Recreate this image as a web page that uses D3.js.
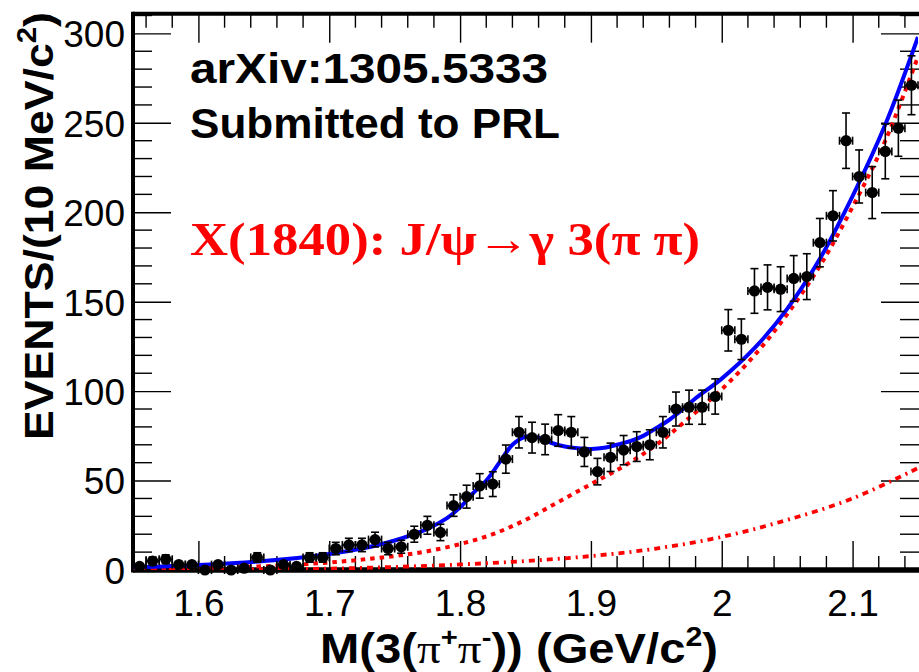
<!DOCTYPE html>
<html>
<head>
<meta charset="utf-8">
<script src="https://cdn.jsdelivr.net/npm/d3@7"></script>
<style>
  html, body { margin: 0; padding: 0; background: #fff; }
  svg { display: block; }
</style>
</head>
<body>
<svg id="chart" width="919" height="672"></svg>
<script>
// Bin centres of the 3(pi+pi-) invariant mass histogram (10 MeV bins), GeV/c^2
const binCenters = [
  1.555, 1.565, 1.575, 1.585, 1.595, 1.605, 1.615, 1.625, 1.635, 1.645,
  1.655, 1.665, 1.675, 1.685, 1.695, 1.705, 1.715, 1.725, 1.735, 1.745,
  1.755, 1.765, 1.775, 1.785, 1.795, 1.805, 1.815, 1.825, 1.835, 1.845,
  1.855, 1.865, 1.875, 1.885, 1.895, 1.905, 1.915, 1.925, 1.935, 1.945,
  1.955, 1.965, 1.975, 1.985, 1.995, 2.005, 2.015, 2.025, 2.035, 2.045,
  2.055, 2.065, 2.075, 2.085, 2.095, 2.105, 2.115, 2.125, 2.135, 2.145
];
// Events per bin
const binCounts = [
  2, 5, 6, 3, 3, 0, 3, 0, 1, 7,
  0, 3, 2, 7, 7, 12, 14, 14, 17, 12,
  13, 20, 25, 21, 36, 41, 47, 48, 62, 77,
  74, 73, 78, 77, 66, 55, 63, 67, 69, 70,
  77, 90, 91, 91, 97, 134, 129, 156, 158, 157,
  163, 164, 183, 198, 240, 220, 211, 234, 247, 271
];

// Total fit (signal + backgrounds)
const fitMass = [1.55, 1.60, 1.65, 1.70, 1.725, 1.75, 1.775, 1.79, 1.80, 1.81, 1.82, 1.83, 1.84, 1.85,
  1.86, 1.87, 1.88, 1.89, 1.90, 1.91, 1.92, 1.93, 1.94, 1.95, 1.96, 1.97, 1.98, 2.00,
  2.025, 2.05, 2.075, 2.10, 2.125, 2.15];
const fitTotal = [1.5, 2.8, 5, 9, 12, 16.5, 23, 29, 35, 43, 50, 60, 70, 74.5,
  74, 71, 69, 68, 67.7, 68.3, 70, 72, 75, 79.4, 84, 89.7, 96, 107,
  124, 146, 174, 209, 249, 298];

// Smooth background component
const bkgMass = [1.55, 1.575, 1.60, 1.625, 1.65, 1.675, 1.70, 1.725, 1.75, 1.775, 1.80, 1.825,
  1.85, 1.875, 1.90, 1.925, 1.95, 1.975, 2.00, 2.025, 2.05, 2.075, 2.10, 2.125, 2.15];
const bkgValues = [0.2, 0.5, 0.9, 1.4, 2.1, 3, 4.2, 5.8, 7.8, 10.5, 14.5, 20,
  28, 38, 48, 58, 70, 85, 101, 120, 143, 170, 203, 240, 287];

// Second (non-resonant) background component
const bkg2Mass = [1.55, 1.60, 1.65, 1.70, 1.75, 1.80, 1.85, 1.90, 1.95, 2.00, 2.05, 2.10, 2.15];
const bkg2Values = [0, 0.1, 0.4, 0.8, 1.7, 3.1, 5, 7.8, 12, 18.5, 28, 40, 57];

const xTicks = [1.6, 1.7, 1.8, 1.9, 2.0, 2.1];
const xTickLabels = ["1.6", "1.7", "1.8", "1.9", "2", "2.1"];
const yTicks = [0, 50, 100, 150, 200, 250, 300];

const svg = d3.select("#chart");
const W = 919, H = 672;
const padL = 133, padR = 918, padT = 13.7, padB = 570;

const x = d3.scaleLinear().domain([1.55, 2.15]).range([padL, padR]);
const y = d3.scaleLinear().domain([0, 311]).range([padB, padT]);

svg.append("rect").attr("width", W).attr("height", H).attr("fill", "#fff");

svg.append("defs").append("clipPath").attr("id", "plotClip")
  .append("rect").attr("x", padL).attr("y", padT).attr("width", padR - padL).attr("height", padB - padT);

// ---- axes (ROOT style: ticks inside on all four sides) ----
const xMinor = d3.range(1.56, 2.1401, 0.02).filter(v => !xTicks.some(t => Math.abs(t - v) < 1e-6));
const yMinor = d3.range(10, 311, 10).filter(v => v % 50 !== 0);

const bottomAxis = d3.axisBottom(x).tickValues(xTicks).tickFormat((d, i) => xTickLabels[i]).tickSizeInner(-29).tickSizeOuter(0).tickPadding(0);
const topAxis = d3.axisTop(x).tickValues(xTicks).tickFormat("").tickSizeInner(-29).tickSizeOuter(0);
const leftAxis = d3.axisLeft(y).tickValues(yTicks).tickSizeInner(-38).tickSizeOuter(0);
const rightAxis = d3.axisRight(y).tickValues(yTicks).tickFormat("").tickSizeInner(-38).tickSizeOuter(0);

function styleAxis(g) {
  g.select(".domain").remove();
  g.selectAll(".tick line").attr("stroke", "#000").attr("stroke-width", 1.4);
}

const gB = svg.append("g").attr("transform", `translate(0,${padB})`).call(bottomAxis).call(styleAxis);
gB.selectAll(".tick text").attr("y", 46).attr("dy", 0)
  .attr("font-family", "'Liberation Sans', Arial, sans-serif").attr("font-size", 37).attr("fill", "#000");
svg.append("g").attr("transform", `translate(0,${padT})`).call(topAxis).call(styleAxis);
const gL = svg.append("g").attr("transform", `translate(${padL},0)`).call(leftAxis).call(styleAxis);
gL.selectAll(".tick text").attr("x", -8).attr("dy", "0.36em")
  .attr("font-family", "'Liberation Sans', Arial, sans-serif").attr("font-size", 37).attr("fill", "#000");
svg.append("g").attr("transform", `translate(${padR + 1},0)`).call(rightAxis).call(styleAxis);

// minor ticks
const minor = svg.append("g").attr("stroke", "#000").attr("stroke-width", 1.4);
minor.selectAll(".mxb").data(xMinor).join("line")
  .attr("x1", d => x(d)).attr("x2", d => x(d)).attr("y1", padB).attr("y2", padB - 14);
minor.selectAll(".mxt").data(xMinor).join("line")
  .attr("x1", d => x(d)).attr("x2", d => x(d)).attr("y1", padT).attr("y2", padT + 14);
minor.selectAll(".myl").data(yMinor).join("line")
  .attr("x1", padL).attr("x2", padL + 19).attr("y1", d => y(d)).attr("y2", d => y(d));
minor.selectAll(".myr").data(yMinor).join("line")
  .attr("x1", padR + 1).attr("x2", padR + 1 - 19).attr("y1", d => y(d)).attr("y2", d => y(d));

// frame
svg.append("line").attr("x1", padL).attr("x2", W).attr("y1", padT).attr("y2", padT).attr("stroke", "#000").attr("stroke-width", 4);
svg.append("line").attr("x1", padL).attr("x2", W).attr("y1", padB).attr("y2", padB).attr("stroke", "#000").attr("stroke-width", 5.5);
svg.append("line").attr("x1", padL).attr("x2", padL).attr("y1", padT - 2).attr("y2", padB + 2.5).attr("stroke", "#000").attr("stroke-width", 4);

// ---- curves ----
const plot = svg.append("g").attr("clip-path", "url(#plotClip)");
const lineOf = (xs) => d3.line().x((d, i) => x(xs[i])).y(d => y(d)).curve(d3.curveCatmullRom.alpha(0.5));

plot.append("path").datum(bkg2Values).attr("d", lineOf(bkg2Mass))
  .attr("fill", "none").attr("stroke", "#ff0000").attr("stroke-width", 3.8)
  .attr("stroke-dasharray", "6,5,2,5");
plot.append("path").datum(bkgValues).attr("d", lineOf(bkgMass))
  .attr("fill", "none").attr("stroke", "#ff0000").attr("stroke-width", 4)
  .attr("stroke-dasharray", "4.5,5");
plot.append("path").datum(fitTotal).attr("d", lineOf(fitMass))
  .attr("fill", "none").attr("stroke", "#0000ff").attr("stroke-width", 4);

// ---- data points with errors ----
const halfBin = 0.005;
const pts = svg.append("g").attr("stroke", "#000").attr("stroke-width", 1.6);
binCenters.forEach((c, i) => {
  const n = binCounts[i];
  const err = Math.sqrt(n);
  const cx = x(c), cy = y(n);
  const x0 = x(c - halfBin), x1 = x(c + halfBin);
  // horizontal bar with end caps
  pts.append("line").attr("x1", x0).attr("x2", x1).attr("y1", cy).attr("y2", cy);
  pts.append("line").attr("x1", x0).attr("x2", x0).attr("y1", cy - 4).attr("y2", cy + 4);
  pts.append("line").attr("x1", x1).attr("x2", x1).attr("y1", cy - 4).attr("y2", cy + 4);
  if (err > 0) {
    const yLo = y(Math.max(0, n - err)), yHi = y(n + err);
    pts.append("line").attr("x1", cx).attr("x2", cx).attr("y1", yLo).attr("y2", yHi);
    pts.append("line").attr("x1", cx - 4).attr("x2", cx + 4).attr("y1", yHi).attr("y2", yHi);
    if (n - err > 0) pts.append("line").attr("x1", cx - 4).attr("x2", cx + 4).attr("y1", yLo).attr("y2", yLo);
  }
  svg.append("circle").attr("cx", cx).attr("cy", cy).attr("r", 5.6).attr("fill", "#000");
});

// ---- titles ----
const sans = "'Liberation Sans', Arial, Helvetica, sans-serif";
const serif = "'Liberation Serif', 'Times New Roman', serif";

const yt = svg.append("text")
  .attr("transform", "translate(53,226) rotate(-90)")
  .attr("text-anchor", "middle").attr("font-family", sans).attr("font-weight", "bold")
  .attr("font-size", 41).attr("fill", "#000")
  .attr("textLength", 428).attr("lengthAdjust", "spacingAndGlyphs");
yt.append("tspan").text("EVENTS/(10 MeV/c");
yt.append("tspan").attr("font-size", 27).attr("dy", -17).text("2");
yt.append("tspan").attr("dy", 17).text(")");

const xt = svg.append("text")
  .attr("x", 519).attr("y", 663)
  .attr("text-anchor", "middle").attr("font-family", sans).attr("font-weight", "bold")
  .attr("font-size", 42).attr("fill", "#000")
  .attr("textLength", 398).attr("lengthAdjust", "spacingAndGlyphs");
xt.append("tspan").text("M(3(");
xt.append("tspan").attr("font-family", serif).attr("font-weight", "normal").text("π");
xt.append("tspan").attr("font-size", 26).attr("dy", -17).text("+");
xt.append("tspan").attr("font-family", serif).attr("font-weight", "normal").attr("dy", 17).text("π");
xt.append("tspan").attr("font-size", 26).attr("dy", -17).text("-");
xt.append("tspan").attr("dy", 17).text(")) (GeV/c");
xt.append("tspan").attr("font-size", 27).attr("dy", -17).text("2");
xt.append("tspan").attr("dy", 17).text(")");

svg.append("text").attr("x", 190).attr("y", 83)
  .attr("font-family", sans).attr("font-weight", "bold").attr("font-size", 43).attr("fill", "#000")
  .attr("textLength", 358).attr("lengthAdjust", "spacingAndGlyphs")
  .text("arXiv:1305.5333");
svg.append("text").attr("x", 190).attr("y", 138)
  .attr("font-family", sans).attr("font-weight", "bold").attr("font-size", 43).attr("fill", "#000")
  .attr("textLength", 370).attr("lengthAdjust", "spacingAndGlyphs")
  .text("Submitted to PRL");
svg.append("text").attr("x", 190).attr("y", 255)
  .attr("font-family", serif).attr("font-weight", "bold").attr("font-size", 47).attr("fill", "#ff0000")
  .attr("textLength", 510).attr("lengthAdjust", "spacingAndGlyphs")
  .text("X(1840): J/ψ→γ 3(π π)");
</script>
</body>
</html>
